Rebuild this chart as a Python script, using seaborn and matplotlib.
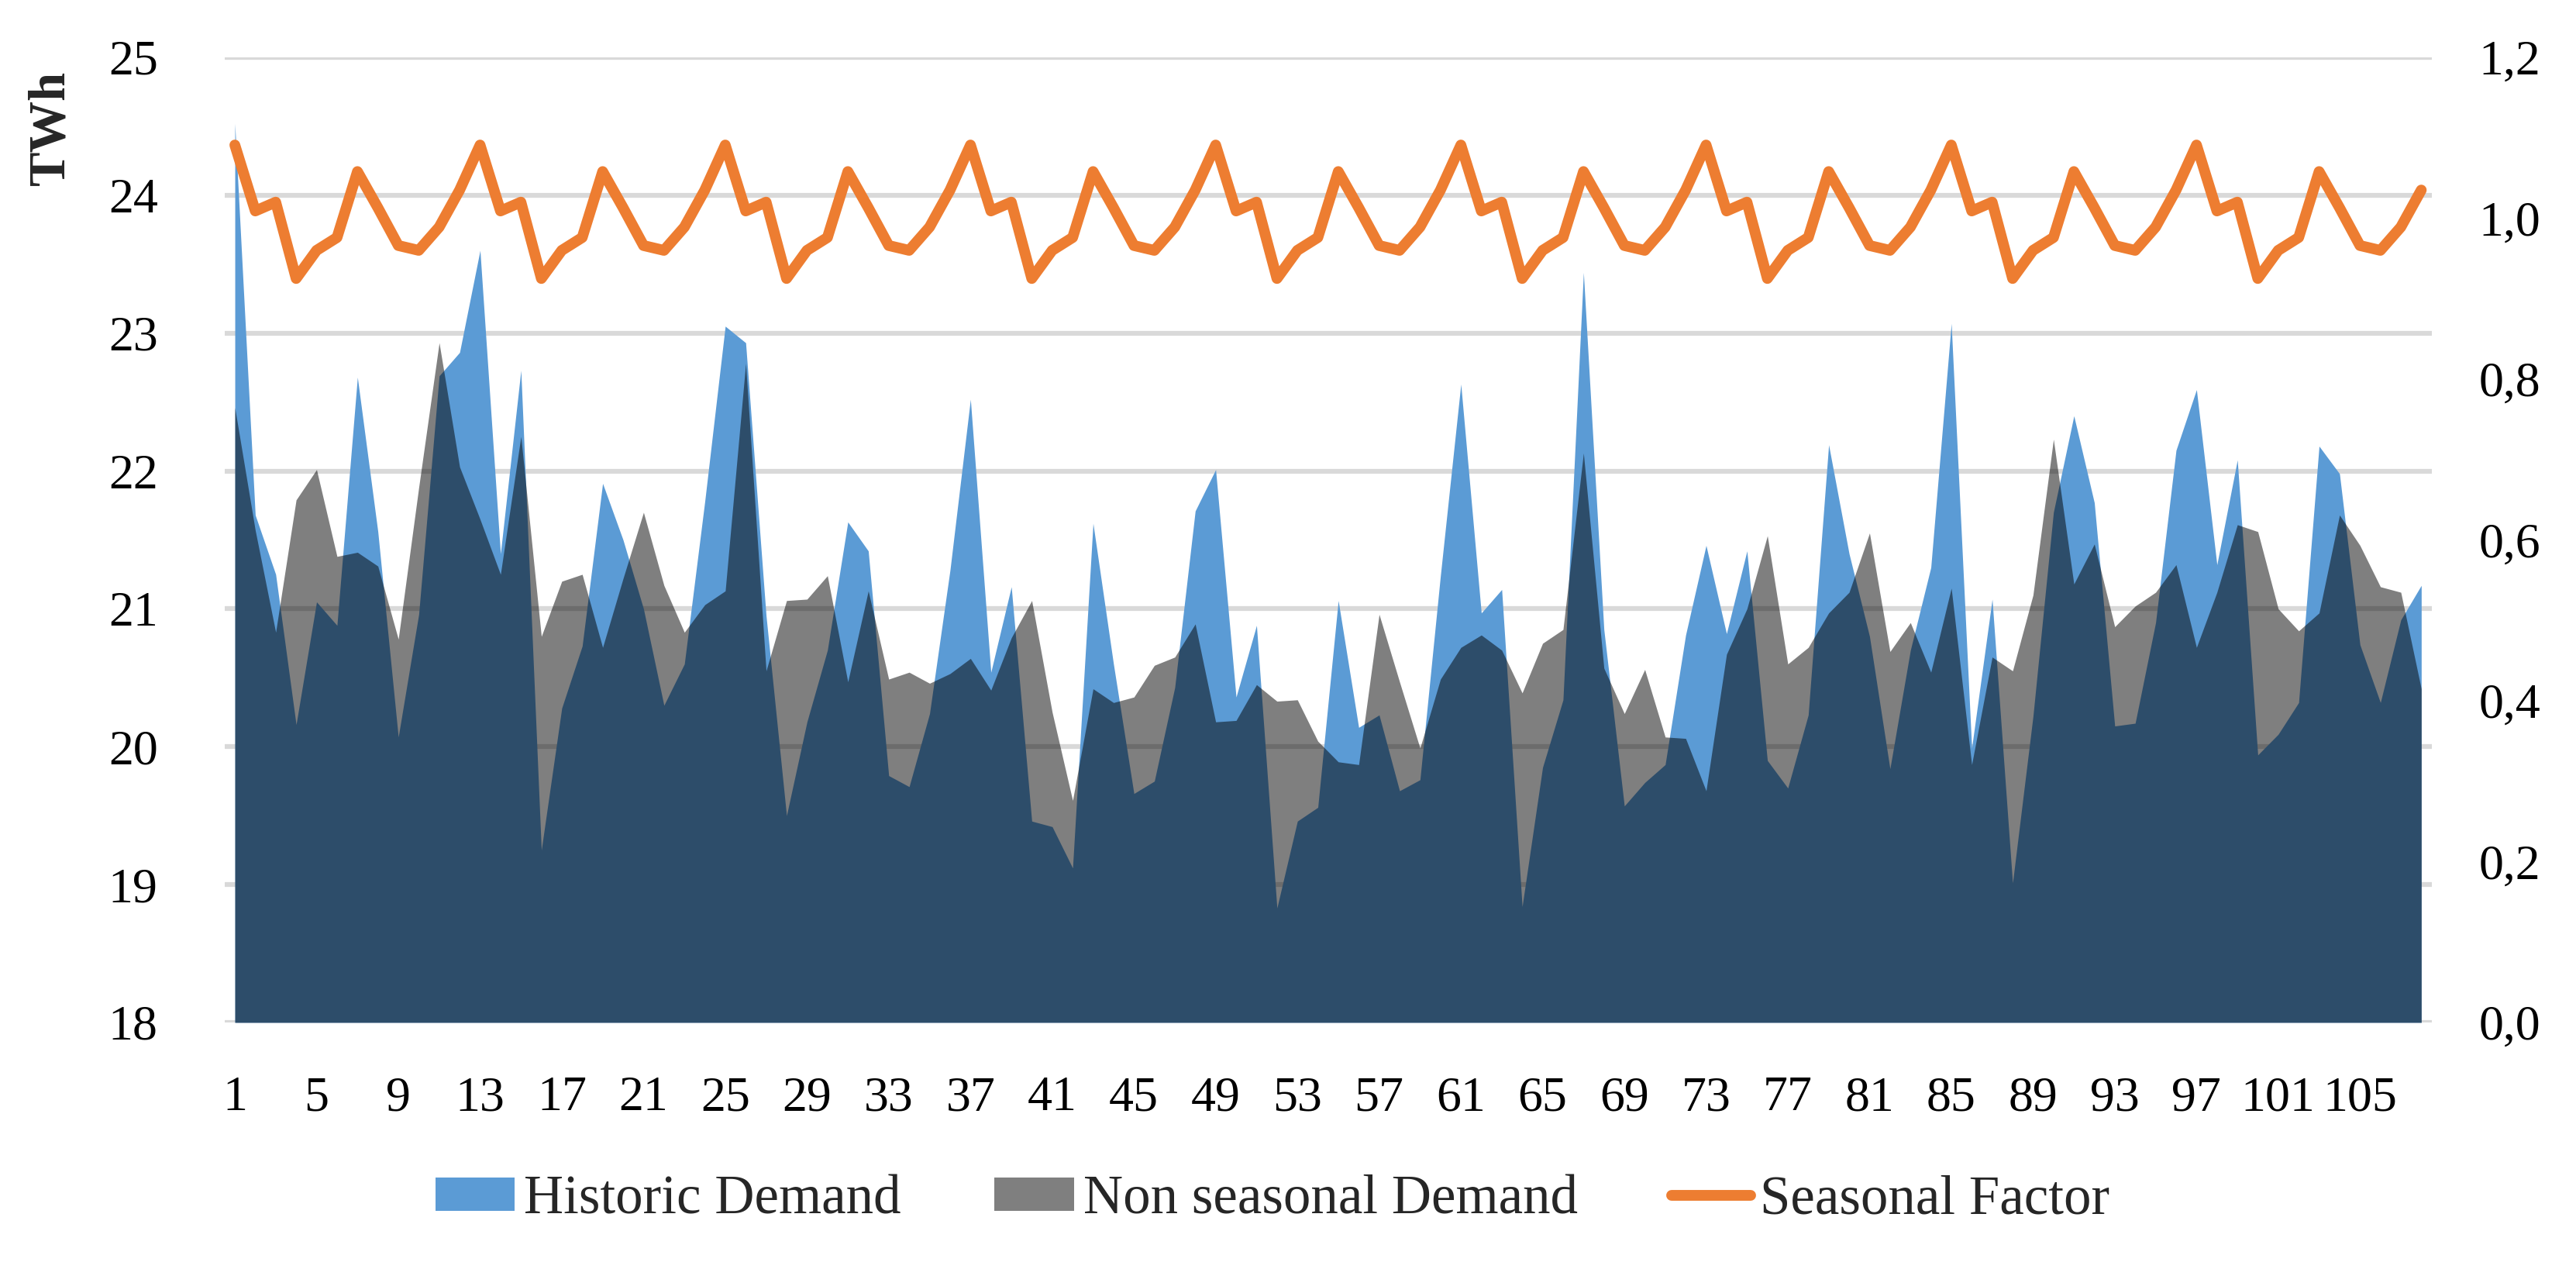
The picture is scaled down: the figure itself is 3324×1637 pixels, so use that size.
import numpy as np
import matplotlib
matplotlib.use("Agg")
import matplotlib.pyplot as plt
import seaborn as sns
from matplotlib.ticker import FuncFormatter
from matplotlib.patches import Patch
from matplotlib.lines import Line2D

months = list(range(1, 109))

historic = [
    24.52, 21.68, 21.25, 20.16, 21.05, 20.88, 22.68, 21.56, 20.07, 20.96, 22.69, 22.86,
    23.60, 21.40, 22.73, 19.25, 20.28, 20.73, 21.91, 21.50, 21.00, 20.30, 20.60, 21.78,
    23.05, 22.93, 20.95, 19.50, 20.18, 20.70, 21.63, 21.42, 19.79, 19.71, 20.24, 21.28,
    22.52, 20.54, 21.16, 19.46, 19.42, 19.12, 21.62, 20.60, 19.66, 19.75, 20.43, 21.71,
    22.01, 20.36, 20.88, 18.83, 19.46, 19.56, 21.06, 20.14, 20.23, 19.68, 19.76, 21.24,
    22.63, 20.97, 21.14, 18.84, 19.85, 20.34, 23.44, 20.85, 19.57, 19.74, 19.87, 20.81,
    21.46, 20.82, 21.42, 19.90, 19.70, 20.23, 22.19, 21.40, 20.80, 19.84, 20.70, 21.30,
    23.07, 19.99, 21.07, 19.01, 20.22, 21.70, 22.40, 21.77, 20.15, 20.17, 20.90, 22.15,
    22.59, 21.32, 22.08, 19.94, 20.09, 20.32, 22.18, 21.98, 20.74, 20.32, 20.92, 21.17,
]

non_seasonal = [
    22.46, 21.57, 20.83, 21.79, 22.01, 21.38, 21.41, 21.31, 20.78, 21.88, 22.93, 22.03,
    21.65, 21.25, 22.25, 20.80, 21.20, 21.25, 20.72, 21.22, 21.70, 21.17, 20.83, 21.03,
    21.13, 22.78, 20.55, 21.06, 21.07, 21.24, 20.47, 21.13, 20.49, 20.54, 20.46, 20.53,
    20.64, 20.41, 20.79, 21.06, 20.25, 19.61, 20.42, 20.32, 20.36, 20.59, 20.65, 20.89,
    20.18, 20.19, 20.45, 20.33, 20.34, 20.04, 19.89, 19.87, 20.96, 20.47, 19.99, 20.49,
    20.72, 20.81, 20.70, 20.39, 20.75, 20.85, 22.13, 20.57, 20.24, 20.56, 20.07, 20.06,
    19.68, 20.67, 21.00, 21.53, 20.60, 20.72, 20.97, 21.12, 21.55, 20.69, 20.90, 20.54,
    21.15, 19.87, 20.65, 20.55, 21.10, 22.23, 21.18, 21.47, 20.87, 21.02, 21.12, 21.32,
    20.72, 21.12, 21.61, 21.56, 21.00, 20.84, 20.97, 21.68, 21.46, 21.16, 21.12, 20.42,
]

seasonal_factor = [
    1.091, 1.009, 1.020, 0.925, 0.960, 0.976, 1.058, 1.013, 0.966, 0.960, 0.989, 1.035,
    1.091, 1.009, 1.020, 0.925, 0.960, 0.976, 1.058, 1.013, 0.966, 0.960, 0.989, 1.035,
    1.091, 1.009, 1.020, 0.925, 0.960, 0.976, 1.058, 1.013, 0.966, 0.960, 0.989, 1.035,
    1.091, 1.009, 1.020, 0.925, 0.960, 0.976, 1.058, 1.013, 0.966, 0.960, 0.989, 1.035,
    1.091, 1.009, 1.020, 0.925, 0.960, 0.976, 1.058, 1.013, 0.966, 0.960, 0.989, 1.035,
    1.091, 1.009, 1.020, 0.925, 0.960, 0.976, 1.058, 1.013, 0.966, 0.960, 0.989, 1.035,
    1.091, 1.009, 1.020, 0.925, 0.960, 0.976, 1.058, 1.013, 0.966, 0.960, 0.989, 1.035,
    1.091, 1.009, 1.020, 0.925, 0.960, 0.976, 1.058, 1.013, 0.966, 0.960, 0.989, 1.035,
    1.091, 1.009, 1.020, 0.925, 0.960, 0.976, 1.058, 1.013, 0.966, 0.960, 0.989, 1.035,
]

x_ticks = list(range(1, 109, 4))

sns.set_theme(style="white")
plt.rcParams['font.family'] = ['Liberation Serif', 'DejaVu Serif']

BLUE = "#5B9BD5"
ORANGE = "#ED7D31"
GRID = "#D9D9D9"
FS = 46

fig = plt.figure(figsize=(33.24, 16.37), dpi=100)
ax = fig.add_axes([0.0872, 0.1943, 0.8567, 0.7605])

# historic demand under, non seasonal as 50% black on top
ax.fill_between(months, 18, historic, color=BLUE, linewidth=0, zorder=2)
ax.fill_between(months, 18, non_seasonal, color="black", alpha=0.5, linewidth=0, zorder=3)

ax.set_xlim(0.5, 108.5)
ax.set_ylim(18, 25)
ax.set_yticks(range(18, 26))
ax.set_xticks(x_ticks)
ax.set_xticklabels([str(t) for t in x_ticks])
ax.yaxis.grid(True, color=GRID, linewidth=4.5, zorder=0)
ax.xaxis.grid(False)
ax.set_axisbelow(True)
for s in ax.spines.values():
    s.set_visible(False)
ax.tick_params(axis='y', length=0, pad=62, labelsize=FS, colors='black')
ax.tick_params(axis='x', length=0, pad=50, labelsize=FS, colors='black')

ax2 = ax.twinx()
sns.lineplot(x=months, y=seasonal_factor, ax=ax2, color=ORANGE, linewidth=10,
             solid_joinstyle='round', solid_capstyle='round', zorder=5)
ax2.set_ylim(0, 1.2)
ax2.set_yticks(np.arange(0, 1.21, 0.2))
ax2.yaxis.set_major_formatter(FuncFormatter(lambda v, p: f"{v:.1f}".replace('.', ',')))
ax2.set_ylabel("")
ax2.grid(False)
for s in ax2.spines.values():
    s.set_visible(False)
ax2.tick_params(axis='y', length=0, pad=44, labelsize=FS, colors='black')

fig.text(66 / 3324, 1 - 165 / 1637, "TWh", rotation=90, ha='center', va='center',
         fontsize=48, fontweight='bold')

handles = [
    Patch(facecolor=BLUE, edgecolor='none'),
    Patch(facecolor="#7F7F7F", edgecolor='none'),
    Line2D([0], [0], color=ORANGE, linewidth=10, solid_capstyle='round'),
]
labels = ["Historic Demand", "Non seasonal Demand", "Seasonal Factor"]
fig.legend(handles, labels, loc='center', bbox_to_anchor=(0.494, 0.0544), ncol=3,
           frameon=False, fontsize=51, handlelength=1.45, handleheight=0.565,
           handletextpad=0.17, columnspacing=1.7)

fig.savefig("out.png", dpi=100)
